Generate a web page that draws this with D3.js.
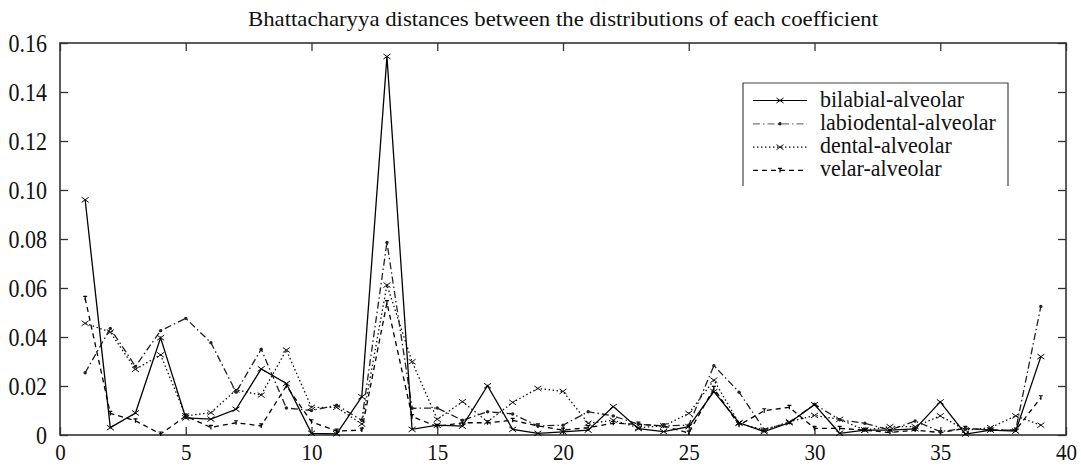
<!DOCTYPE html>
<html>
<head>
<meta charset="utf-8">
<script src="https://cdn.jsdelivr.net/npm/d3@7/dist/d3.min.js"></script>
<style>
  body { margin: 0; background: #fff; }
  svg text { font-family: "Liberation Serif", "DejaVu Serif", serif !important; fill: #111; }
</style>
</head>
<body>
<div class="d3_canvas"></div>
<script>
var coefficients = [1,2,3,4,5,6,7,8,9,10,11,12,13,14,15,16,17,18,19,20,
  21,22,23,24,25,26,27,28,29,30,31,32,33,34,35,36,37,38,39];

var bilabial = [0.096,0.003,0.009,0.0397,0.007,0.0065,0.0105,0.027,0.021,0.0007,
  0.0005,0.0156,0.1545,0.0023,0.004,0.0036,0.0201,0.0023,0.0007,0.0013,
  0.002,0.0116,0.0026,0.0014,0.0034,0.0177,0.005,0.0014,0.005,0.0124,
  0.0007,0.002,0.002,0.0025,0.0135,0.0004,0.002,0.0016,0.032];

var labiodental = [0.0254,0.0435,0.028,0.0426,0.0476,0.0377,0.0175,0.035,0.011,0.010,
  0.0122,0.006,0.0786,0.0109,0.011,0.006,0.0095,0.0086,0.0037,0.004,
  0.0095,0.0078,0.0044,0.0037,0.004,0.0283,0.0175,0.0023,0.005,0.0126,
  0.0062,0.0048,0.002,0.0057,0.0014,0.0027,0.002,0.002,0.0525];

var dental = [0.0456,0.042,0.0268,0.0327,0.0078,0.0091,0.0184,0.0163,0.0347,0.0113,
  0.0113,0.0045,0.0612,0.0299,0.0064,0.0136,0.0054,0.0133,0.019,0.0178,
  0.0048,0.006,0.003,0.0037,0.0088,0.0224,0.0048,0.002,0.0054,0.008,
  0.0064,0.002,0.0034,0.0034,0.0078,0.002,0.003,0.0078,0.004];

var velar = [0.0558,0.0088,0.0058,0.0004,0.0077,0.0031,0.005,0.0037,0.020,0.0054,
  0.0016,0.002,0.054,0.0075,0.0035,0.005,0.005,0.006,0.0037,0.002,
  0.003,0.0048,0.0044,0.0037,0.0008,0.019,0.004,0.0099,0.0113,0.0027,
  0.0027,0.002,0.001,0.002,0.001,0.0027,0.002,0.002,0.0152];

var seriesNames = ["bilabial-alveolar", "labiodental-alveolar", "dental-alveolar", "velar-alveolar"];
var xTicks = [0,5,10,15,20,25,30,35,40];
var yTicks = [0,0.02,0.04,0.06,0.08,0.10,0.12,0.14,0.16];
var title = "Bhattacharyya distances between the distributions of each coefficient";

var width = 1081, height = 467,
    margin = {top: 43, right: 15, bottom: 32, left: 60};
var serif = "Liberation Serif, DejaVu Serif, serif";

var svg = d3.select(".d3_canvas")
  .append("svg")
    .attr("width", width)
    .attr("height", height);

var x = d3.scaleLinear().domain([0, 40]).range([margin.left, width - margin.right]);
var y = d3.scaleLinear().domain([0, 0.16]).range([height - margin.bottom, margin.top]);

// line looks, one per series
var styles = [
  {dash: null,        color: "#000", marker: "cross"},
  {dash: "7,3,1.5,3", color: "#222", marker: "dot"},
  {dash: "1.5,2.5",   color: "#111", marker: "cross"},
  {dash: "5,4",       color: "#000", marker: "tee"}
];
var allSeries = [bilabial, labiodental, dental, velar];

svg.append("text")
  .attr("x", (x(0) + x(40)) / 2)
  .attr("y", 0)
  .attr("text-anchor", "middle")
  .attr("font-family", serif)
  .attr("font-size", 19)
  .attr("textLength", 630)
  .attr("lengthAdjust", "spacingAndGlyphs")
  .attr("transform", "translate(0,26) scale(1,1.12)")
  .text(title);

// axes, ticks pointing in on all four sides
var fmt = function(d) { return d === 0 ? "0" : d3.format(".2f")(d); };

svg.append("g")
    .attr("transform", "translate(" + x(0) + ",0)")
    .call(d3.axisLeft(y).tickValues(yTicks).tickFormat(fmt).tickSizeInner(-8).tickSizeOuter(0).tickPadding(13))
  .call(function(g) {
    g.attr("font-family", serif);
    g.select(".domain").remove();
    g.selectAll("line").attr("stroke", "#333").attr("stroke-width", 1.3);
    g.selectAll("text").attr("font-size", 22)
      .attr("fill", "#111").attr("dy", "0.33em").attr("transform", "scale(1,1.12)");
  });

svg.append("g")
    .attr("transform", "translate(" + x(40) + ",0)")
    .call(d3.axisRight(y).tickValues(yTicks).tickFormat("").tickSizeInner(-8).tickSizeOuter(0))
  .call(function(g) {
    g.select(".domain").remove();
    g.selectAll("line").attr("stroke", "#333").attr("stroke-width", 1.3);
  });

svg.append("g")
    .attr("transform", "translate(0," + y(0) + ")")
    .call(d3.axisBottom(x).tickValues(xTicks).tickSizeInner(-8).tickSizeOuter(0))
  .call(function(g) {
    g.attr("font-family", serif);
    g.select(".domain").remove();
    g.selectAll("line").attr("stroke", "#333").attr("stroke-width", 1.3);
    g.selectAll("text").attr("font-size", 21).attr("fill", "#111")
      .attr("y", null).attr("dy", null).attr("transform", "translate(0,25) scale(1,1.12)");
  });

svg.append("g")
    .attr("transform", "translate(0," + y(0.16) + ")")
    .call(d3.axisTop(x).tickValues(xTicks).tickFormat("").tickSizeInner(-8).tickSizeOuter(0))
  .call(function(g) {
    g.select(".domain").remove();
    g.selectAll("line").attr("stroke", "#333").attr("stroke-width", 1.3);
  });

svg.append("rect")
  .attr("x", x(0)).attr("y", y(0.16))
  .attr("width", x(40) - x(0)).attr("height", y(0) - y(0.16))
  .attr("fill", "none").attr("stroke", "#333").attr("stroke-width", 1.6);

function drawMarker(g, kind, cx, cy, color) {
  if (kind === "dot") {
    g.append("circle").attr("cx", cx).attr("cy", cy).attr("r", 1.7).attr("fill", color);
  } else if (kind === "cross") {
    g.append("path")
      .attr("d", "M" + (cx-3.5) + "," + (cy-2.5) + "L" + (cx+3.5) + "," + (cy+2.5) +
                 "M" + (cx-3.5) + "," + (cy+2.5) + "L" + (cx+3.5) + "," + (cy-2.5))
      .attr("stroke", color).attr("stroke-width", 1).attr("fill", "none");
  } else {
    g.append("path")
      .attr("d", "M" + (cx-2) + "," + (cy-2) + "L" + (cx+2) + "," + (cy-2) +
                 "M" + cx + "," + (cy-2) + "L" + cx + "," + (cy+2))
      .attr("stroke", color).attr("stroke-width", 1.2).attr("fill", "none");
  }
}

var line = d3.line()
  .x(function(d) { return x(d[0]); })
  .y(function(d) { return y(d[1]); });

// draw back to front so the solid line ends on top
for (var s = allSeries.length - 1; s >= 0; s--) {
  var pts = coefficients.map(function(c, i) { return [c, allSeries[s][i]]; });
  var g = svg.append("g");
  g.append("path")
    .datum(pts)
    .attr("d", line)
    .attr("fill", "none")
    .attr("stroke", styles[s].color)
    .attr("stroke-width", 1.3)
    .attr("stroke-dasharray", styles[s].dash);
  pts.forEach(function(p) {
    drawMarker(g, styles[s].marker, x(p[0]), y(p[1]), styles[s].color);
  });
}

// legend (box has no bottom edge in the original)
var lg = svg.append("g");
lg.append("path")
  .attr("d", "M743,186L743,83L1008,83L1008,186")
  .attr("fill", "none").attr("stroke", "#444").attr("stroke-width", 1.2);

seriesNames.forEach(function(name, i) {
  var by = 106.5 + i * 23.3;
  lg.append("line")
    .attr("x1", 753).attr("x2", 807)
    .attr("y1", by - 6).attr("y2", by - 6)
    .attr("stroke", i === 1 ? "#777" : styles[i].color)
    .attr("stroke-width", 1.2)
    .attr("stroke-dasharray", styles[i].dash);
  drawMarker(lg, styles[i].marker, 780, by - 6, styles[i].color);
  lg.append("text")
    .attr("x", 820).attr("y", 0)
    .attr("font-family", serif)
    .attr("font-size", 22)
    .attr("transform", "translate(0," + by + ") scale(1,1.05)")
    .text(name);
});
</script>
</body>
</html>
